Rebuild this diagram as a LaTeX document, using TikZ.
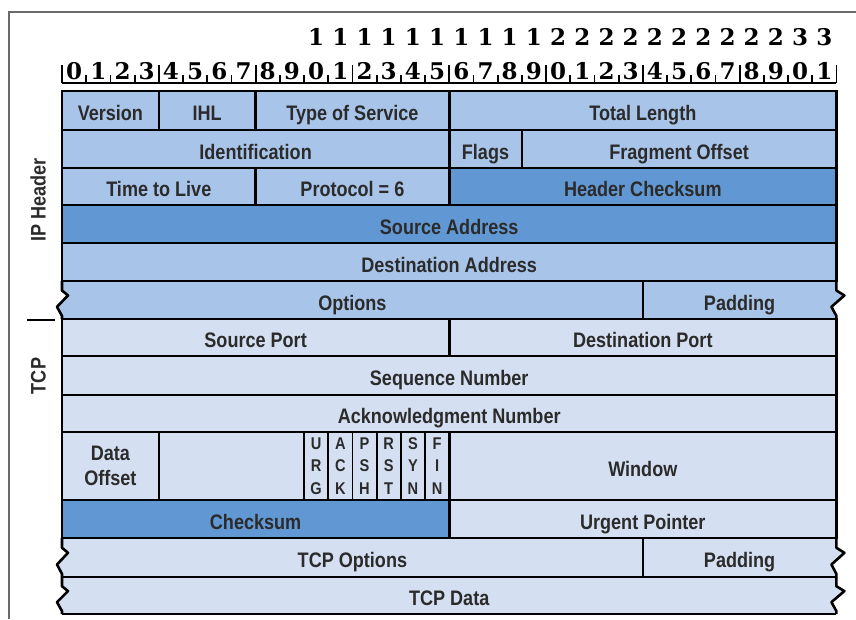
\documentclass[tikz,border=0pt]{standalone}
\usepackage{fontspec}
\newfontfamily\labfont[FakeStretch=0.86]{Liberation Sans}
\newfontfamily\digfont{DejaVu Serif}
\definecolor{ipc}{HTML}{A9C4E9}
\definecolor{dkc}{HTML}{6198D3}
\definecolor{tcc}{HTML}{D4E0F2}
\definecolor{txt}{HTML}{2B2B2B}
\definecolor{frm}{HTML}{6A6A6A}
\tikzset{
  cellbase/.style={draw=black, line width=2.6pt, inner sep=0pt, text=txt,
    font=\labfont\bfseries\fontsize{21}{25}\selectfont},
  cellbox/.style={cellbase, text height=20pt, text depth=0pt},
  multicell/.style={cellbase, align=center},
  flagcell/.style={cellbase, line width=1.8pt, align=center,
    font=\labfont\bfseries\fontsize{17}{22.5}\selectfont},
  lab/.style={inner sep=0pt, text=txt, font=\labfont\bfseries\fontsize{21}{25}\selectfont,
    text height=20pt, text depth=0pt},
  sidelab/.style={inner sep=0pt, text=txt, font=\labfont\bfseries\fontsize{21}{25}\selectfont,
    text height=15pt, text depth=0pt, rotate=90},
  edge/.style={draw=black, line width=2.6pt, line cap=square},
  tickline/.style={draw=black, line width=1.8pt},
  dig/.style={inner sep=0pt, anchor=base, text=black, font=\digfont\bfseries\fontsize{23}{26}\selectfont},
  frame/.style={draw=frm, line width=1.5pt}
}
% [style]{name}{bit from}{bit to}{y top}{y bottom}{colour}{text}
\newcommand\fld[8][cellbox]{%
  \pgfmathsetmacro\fldxa{62+24.2*#3}%
  \pgfmathsetmacro\fldxb{62+24.2*#4}%
  \pgfmathsetmacro\fldw{\fldxb-\fldxa}%
  \pgfmathsetmacro\fldh{#6-#5}%
  \pgfmathsetmacro\fldcx{(\fldxa+\fldxb)/2}%
  \pgfmathsetmacro\fldcy{(#5+#6)/2}%
  \node[#1, fill=#7, minimum width=\fldw pt, minimum height=\fldh pt] (#2) at (\fldcx,\fldcy) {#8};}
% {y top}{y bottom}{colour}
\newcommand\zrow[3]{%
  \pgfmathsetmacro\zya{#1+0.25*(#2-#1)}%
  \pgfmathsetmacro\zyb{#1+0.38*(#2-#1)}%
  \pgfmathsetmacro\zyc{#1+0.68*(#2-#1)}%
  \pgfmathsetmacro\zyd{#1+0.92*(#2-#1)}%
  \fill[#3] (62,#1) -- (62,\zya) -- (68,\zyb) -- (57,\zyc) -- (62,\zyd) -- (62,#2)
     -- (836.4,#2) -- (836.4,\zyd) -- (831.4,\zyc) -- (844.4,\zyb) -- (836.4,\zya) -- (836.4,#1) -- cycle;
  \draw[edge, line cap=butt, line join=round] (62,#1) -- (62,\zya) -- (68,\zyb) -- (57,\zyc) -- (62,\zyd) -- (62,#2);
  \draw[edge, line cap=butt, line join=round] (836.4,#1) -- (836.4,\zya) -- (844.4,\zyb) -- (831.4,\zyc) -- (836.4,\zyd) -- (836.4,#2);
  \draw[edge] (62,#1) -- (836.4,#1);
  \draw[edge] (62,#2) -- (836.4,#2);}
\begin{document}
\begin{tikzpicture}[x=1pt, y=-1pt]
\useasboundingbox (0,0) rectangle (856,619);
\fill[white] (0,0) rectangle (856,619);
% outer frame
\draw[frame] (9,619) -- (9,12) -- (856,12);
% ruler
\draw[tickline] (62,83) -- (836.4,83);
\foreach \i in {0,...,32}{
  \pgfmathsetmacro\tkx{62+24.2*\i}
  \pgfmathtruncatemacro\tkm{mod(\i,4)}
  \ifnum\tkm=0 \draw[tickline] (\tkx,65) -- (\tkx,83); \else \draw[tickline] (\tkx,75) -- (\tkx,83); \fi
}
\foreach \i in {0,...,31}{
  \pgfmathsetmacro\dgx{62+24.2*(\i+0.5)}
  \pgfmathtruncatemacro\dgu{mod(\i,10)}
  \node[dig] (bd\i) at (\dgx,79) {\dgu};
  \ifnum\i>9
    \pgfmathtruncatemacro\dgt{\i/10}
    \node[dig] (td\i) at (\dgx,45) {\dgt};
  \fi
}
% IP header
\fld{version}{0}{4}{91}{130}{ipc}{Version}
\fld{ihl}{4}{8}{91}{130}{ipc}{IHL}
\fld{tos}{8}{16}{91}{130}{ipc}{Type of Service}
\fld{totlen}{16}{32}{91}{130}{ipc}{Total Length}
\fld{ident}{0}{16}{130}{168}{ipc}{Identification}
\fld{flags}{16}{19}{130}{168}{ipc}{Flags}
\fld{fragoff}{19}{32}{130}{168}{ipc}{Fragment Offset}
\fld{ttl}{0}{8}{168}{205}{ipc}{Time to Live}
\fld{proto}{8}{16}{168}{205}{ipc}{Protocol = 6}
\fld{hcsum}{16}{32}{168}{205}{dkc}{Header Checksum}
\fld{srcaddr}{0}{32}{205}{243}{dkc}{Source Address}
\fld{dstaddr}{0}{32}{243}{281}{ipc}{Destination Address}
\zrow{281}{319}{ipc}
\draw[edge] (642.8,281) -- (642.8,319);
\node[lab] (ipopt) at (352.4,300) {Options};
\node[lab] (ippad) at (739.6,300) {Padding};
% TCP
\fld{sport}{0}{16}{319}{356}{tcc}{Source Port}
\fld{dport}{16}{32}{319}{356}{tcc}{Destination Port}
\fld{seqno}{0}{32}{356}{395}{tcc}{Sequence Number}
\fld{ackno}{0}{32}{395}{432}{tcc}{Acknowledgment Number}
\fld[multicell]{dataoff}{0}{4}{432}{500}{tcc}{Data\\Offset}
\fld{reserved}{4}{10}{432}{500}{tcc}{}
\fld[flagcell]{urg}{10}{11}{432}{500}{tcc}{U\\R\\G}
\fld[flagcell]{ack}{11}{12}{432}{500}{tcc}{A\\C\\K}
\fld[flagcell]{psh}{12}{13}{432}{500}{tcc}{P\\S\\H}
\fld[flagcell]{rst}{13}{14}{432}{500}{tcc}{R\\S\\T}
\fld[flagcell]{syn}{14}{15}{432}{500}{tcc}{S\\Y\\N}
\fld[flagcell]{fin}{15}{16}{432}{500}{tcc}{F\\I\\N}
\fld{window}{16}{32}{432}{500}{tcc}{Window}
\fld{tcsum}{0}{16}{500}{538}{dkc}{Checksum}
\fld{urgptr}{16}{32}{500}{538}{tcc}{Urgent Pointer}
\zrow{538}{577}{tcc}
\draw[edge] (642.8,538) -- (642.8,577);
\node[lab] (tcpopt) at (352.4,557.5) {TCP Options};
\node[lab] (tcppad) at (739.6,557.5) {Padding};
\zrow{577}{614}{tcc}
\node[lab] (tcpdata) at (449.2,595.5) {TCP Data};
% side labels
\node[sidelab] (iphdr) at (38,200) {IP Header};
\node[sidelab] (tcplab) at (38,376) {TCP};
\draw[edge, line cap=butt] (27,320) -- (55,320);
\end{tikzpicture}
\end{document}
